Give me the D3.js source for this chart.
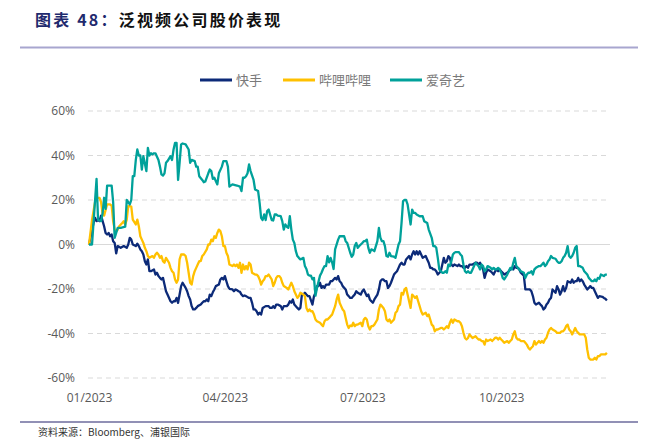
<!DOCTYPE html>
<html lang="zh">
<head>
  <meta charset="utf-8">
  <title>泛视频公司股价表现</title>
  <script src="https://d3js.org/d3.v7.min.js"></script>
  <style>
    body {
      margin: 0;
      background: #fff;
    }

    svg text {
      font-family: "Noto Sans CJK SC", "Open Sans", sans-serif;
    }

    .tick text {
      font-family: "Open Sans", "Noto Sans CJK SC", sans-serif;
      font-size: 12px;
      fill: #595959;
    }

    .grid {
      stroke: #d9d9d9;
      stroke-width: 1;
    }

    .series {
      fill: none;
      stroke-width: 2.3;
      stroke-linejoin: round;
    }

    .legend text {
      font-size: 13px;
      fill: #7a7a7a;
    }
  </style>
</head>

<body>
  <div id="chart"></div>

  <script>
    // day of 2023 (0 = 1 Jan) and change since start, in %
    var ksDays = [0,3,4,5,6,7,8,10,11,12,13,14,15,16,17,18,19,21,23,25,26,27,28,29,31,32,33,34,35,36,37,38,39,40,41,43,44,45,46,47,48,49,50,51,52,54,55,56,57,58,59,60,61,62,64,65,66,67,68,69,70,71,72,74,75,76,77,78,79,80,81,82,83,84,86,87,88,89,90,91,92,93,95,96,97,98,99,100,101,102,103,104,106,107,108,109,110,111,112,113,114,115,117,118,119,120,121,122,123,124,125,127,128,129,130,131,132,133,134,135,136,138,139,140,141,142,143,144,145,146,148,149,150,151,152,153,154,155,156,157,159,160,161,162,163,164,165,166,167,168,170,171,172,173,174,175,176,177,178,180,181,182,183,184,185,186,187,188,189,191,192,193,194,195,196,197,198,199,200,202,203,204,205,206,207,208,209,210,212,213,214,215,216,217,218,219,220,221,223,224,225,226,227,228,229,230,231,233,234,235,236,237,238,239,240,241,242,244,245,246,247,248,249,250,251,252,253,254,256,257,258,259,260,261,262,263,264,266,267,268,269,270,271,272,273,274,275,277,278,279,280,281,282,283,284,285,286,288,289,290,291,292,293,294,295,296,298,299,300,301,302,303,304,305,306,307,309,310,311,312,313,314,315,316,317,319,320,321,322,323,324,325,326,327,328,330,331,332,333,334,335,336,337,338,340,341,342,343];
    var ksValues = [0,9.7,12,10.5,11.2,10.5,13,8.2,5.2,4.5,5.2,3.7,4.5,1.5,0.7,-4,-0.7,-1.5,-0.7,-1.5,0,3,2.2,0,-0.7,0.4,-0.7,-2.2,-3,-4.5,-7.5,-9,-6.7,-12,-12,-11.2,-13.5,-12.7,-14.2,-15,-15.7,-15,-18,-21,-22.5,-25.5,-26.2,-25.5,-25.5,-24,-26.2,-22.5,-18.7,-17.2,-19.5,-21,-23.2,-24.7,-27.7,-29.2,-29.2,-28.5,-27.7,-27,-26.2,-25.5,-25.5,-24.7,-25.5,-22.5,-23.2,-21.5,-20.2,-18.7,-18,-15.7,-15,-15.7,-14.2,-16.5,-18.7,-19.9,-20.2,-21,-20.2,-20.5,-21,-21.3,-22.5,-23.2,-22.9,-23.2,-24,-24,-26.2,-29.2,-29.2,-30,-31.5,-30.7,-31.5,-28.5,-27.7,-27.7,-27.7,-28.5,-28.5,-27.7,-28.5,-27,-27,-27.7,-29.2,-27.7,-27.7,-27.7,-27,-25.5,-26.2,-24.7,-27,-28.5,-29.2,-28.5,-22.5,-22.5,-21.7,-22.5,-23.2,-23.2,-27,-23.2,-21.7,-18.7,-18.7,-17.2,-19.5,-18.7,-19.5,-18,-18,-16.5,-16.5,-15.7,-15,-15.7,-14.2,-16.5,-17.2,-18.7,-20.2,-22.5,-23.2,-24,-24,-23.2,-22.5,-21,-21.7,-22.5,-21,-20.2,-21.7,-23.2,-22.5,-24.7,-25.5,-26.2,-24.7,-22.5,-20.2,-16.5,-15.7,-15.7,-16.5,-16.5,-19.5,-18.7,-17.2,-13.5,-12.7,-12,-10.5,-9,-8.2,-9,-9,-6.7,-5.2,-6.7,-4.5,-3,-4.5,-3,-4.5,-3,-4.5,-6,-5.2,-6.7,-8.2,-10.5,-10.5,-11.2,-11.2,-12,-13.5,-12,-9,-6,-8.2,-7.5,-5.2,-6,-9,-9.7,-9,-9.7,-9,-9.7,-9.7,-10.5,-10.5,-9.7,-10.5,-9,-9,-9,-8.2,-8.2,-9,-8.2,-9.7,-11.2,-15,-12.7,-11.2,-12,-12.7,-13.5,-12,-11.2,-12,-11.2,-12,-12.7,-13.5,-12.7,-12,-11.2,-10.5,-11.2,-9.7,-10.5,-10.5,-11.2,-12.7,-14,-20.2,-20.2,-20.2,-20.2,-21,-23.2,-26.2,-27,-26.2,-27,-27.7,-29.2,-28.5,-27,-26.2,-24.7,-24,-20.2,-21.7,-18.7,-20.2,-22.5,-21,-18.7,-21,-19.5,-16.5,-17.2,-15.7,-17.2,-16.5,-16.5,-15,-16.5,-15.7,-16.5,-18,-20.2,-19.5,-18.7,-19.5,-19.5,-21,-22.5,-24,-23.2,-23.5,-24,-24.4,-25.2];

    var blDays = [0,2,4,5,7,8,9,10,11,12,14,15,16,17,18,19,20,22,23,24,25,26,27,28,29,31,32,33,34,35,36,37,38,39,40,42,43,44,45,46,47,48,49,50,51,53,54,55,56,57,58,59,60,61,63,64,65,66,67,68,69,70,71,72,73,74,75,76,78,79,80,81,82,83,84,85,86,87,88,89,90,91,92,93,95,96,97,98,99,100,101,102,103,104,105,106,107,108,110,111,112,113,114,115,116,117,118,119,121,122,123,124,125,126,127,128,129,131,132,133,134,135,136,137,138,139,140,142,143,144,145,146,147,148,149,150,151,153,154,155,156,157,158,159,160,161,163,164,165,166,167,168,169,170,171,172,173,174,175,176,177,178,180,181,182,183,184,185,186,187,188,189,191,192,193,194,195,196,197,198,199,200,202,203,204,205,206,207,208,209,210,211,213,214,215,216,217,218,219,220,221,223,224,225,226,227,228,229,230,231,233,234,235,236,237,238,239,240,241,242,244,245,246,247,248,249,250,251,252,253,254,256,257,258,259,260,261,262,263,264,266,267,268,269,270,271,272,273,274,275,277,278,279,280,281,282,283,284,285,286,288,289,290,291,292,293,294,295,296,298,299,300,301,302,303,304,305,306,307,309,310,311,312,313,314,315,316,317,318,319,320,321,322,323,324,325,326,327,328,329,330,331,332,333,334,335,336,337,338,339,341,342,343];
    var blValues = [0,11,19,21,21,19,14,13,15.5,18,18,17.5,10.5,6.7,6,6.7,8.2,9.7,10.5,9,11.2,17.2,17.2,17,11.2,9,11.2,8.2,3.7,2.2,0.7,-1.5,-3,-5.2,-6,-5.2,-6,-4.5,-3.7,-4.5,-6,-5.2,-7.5,-8.2,-6,-8.2,-10.5,-12,-12.7,-15.7,-17.2,-15.7,-6.7,-4.5,-4.5,-5.2,-8.2,-12.7,-17.2,-18,-14.2,-12,-10.5,-9,-7.5,-7.5,-5.2,-4.5,-2.2,0,0,2.2,1.5,3.7,3,5.2,6.7,6,3.7,-0.7,-0.7,-3.7,-5.2,-9,-9.7,-9,-9.7,-9,-10.5,-8.2,-12.7,-9,-11.2,-9.7,-11.2,-8.2,-9,-12.7,-13.5,-13.5,-14.2,-15.7,-18,-16.5,-15.7,-14.2,-14.2,-13.5,-15.7,-18.7,-17.2,-15,-14.2,-14.2,-15,-17.2,-18.7,-19.5,-20.2,-18.7,-17.2,-18.7,-21,-22.5,-24,-23.2,-21.7,-22.5,-23.2,-28.5,-30,-29.2,-30,-30,-31.5,-33.7,-34.5,-35.2,-36,-36.7,-34.5,-33.7,-33.7,-33,-32.2,-31.5,-27.7,-24.7,-22.5,-26.2,-27.7,-29.2,-30,-33,-36,-37.5,-36.4,-36.7,-35.2,-36.7,-36,-36,-35.2,-36.7,-33.7,-33,-33.7,-36.7,-38.2,-36.7,-36.7,-36,-33.7,-29.2,-27,-27.7,-28.5,-30,-33.7,-34.5,-33.7,-35.2,-33.7,-30.7,-30,-27.7,-27,-21.7,-22.5,-20.2,-19.5,-22.5,-28.5,-22.5,-23.2,-24,-23.2,-25.5,-27.7,-30,-31.5,-30.7,-32.2,-31.5,-33.7,-36,-36.7,-39,-38.2,-38.2,-37.5,-37.5,-38.2,-37.5,-36.7,-37.5,-35.2,-33.7,-35.2,-33.7,-34.5,-34.5,-35.2,-36.7,-39.7,-42,-42.7,-42,-40.4,-41.2,-42,-41.2,-42,-42.7,-42.7,-43.4,-43.4,-45,-42.7,-43.4,-42.7,-43.4,-42.7,-41.9,-41.9,-42.7,-41.9,-42.7,-43.4,-44.2,-43.4,-44.2,-43.4,-42.7,-40.4,-39,-41.9,-42.7,-42.7,-43.4,-43.4,-44.2,-45,-46.4,-47.2,-46.4,-45.7,-43.4,-45,-43.4,-44.2,-43.4,-44.2,-42.7,-41.9,-39.7,-38.2,-37.5,-38.2,-39,-39.7,-39.7,-39.7,-39,-39,-38.2,-36.7,-36,-38.2,-39,-40.4,-39,-37.5,-39,-39.7,-40.4,-40.4,-40.4,-40.4,-41.9,-47.2,-50.9,-51.7,-51.7,-51.7,-50.9,-51.7,-50.2,-50.2,-49.4,-49.4,-49.4,-48.7];

    var iqDays = [0,2,5,6,8,9,10,11,12,15,16,17,19,21,24,25,27,28,29,30,31,32,33,34,35,36,38,39,40,41,42,43,44,46,47,48,49,50,51,52,54,55,56,57,58,59,60,61,62,64,66,67,68,70,71,72,73,75,76,77,79,80,81,82,83,85,86,88,89,91,92,93,95,98,100,101,102,103,104,105,106,107,109,110,112,113,114,115,116,117,118,119,121,122,123,124,125,127,128,129,130,131,132,133,134,135,136,137,138,139,140,142,143,144,145,146,147,148,149,150,151,153,154,155,156,157,158,159,160,161,162,163,165,166,167,169,170,171,173,174,175,176,177,178,179,181,182,183,184,185,186,187,188,189,191,192,193,194,195,196,197,198,199,200,202,203,204,205,206,207,208,209,210,211,213,214,215,216,217,219,221,222,224,225,227,228,229,230,231,232,234,235,236,237,238,239,240,241,242,243,245,246,247,248,249,250,251,252,253,254,256,257,258,259,260,261,262,263,264,266,267,268,269,270,271,272,273,274,275,277,278,279,280,281,282,283,284,285,286,288,289,290,291,292,293,294,295,296,298,299,300,301,302,303,304,305,306,307,309,310,311,312,313,314,315,316,317,318,319,320,321,322,323,324,325,327,328,330,331,332,333,334,335,336,337,338,339,341,342,343];
    var iqValues = [0,0,29.5,11,10.5,14,21,16,26.5,26.5,19,3,7.5,7.5,8,20,18,20,30.7,30.7,38,42.7,40,40,33.7,39.7,33,43.4,40,41,40.5,41,41,38,35,31.5,31,32,36.7,37.5,39.7,38,42.7,45.7,45.7,29,36.7,45,45.4,45,42.7,36.7,38,37.5,35,35,30.7,29,28,28.3,32,33.7,33,29.5,30,27,32,35,37.5,37.5,35,26,27,26.5,26,24,30,30,30.7,32,36,33,29,24.7,24,18.7,12,11,13.5,11,15,15.7,11,10.8,13.5,13.5,13,12.7,10.5,6.7,9,8,7.5,12.7,6.7,2.2,0.7,-3,-5.2,-6,-6.7,-6,-9.7,-11,-13.5,-14,-14,-15.7,-15,-23,-19.5,-14,-12.7,-11,-9.7,-9.7,-5.2,-8,-6,-8,-11,-2.2,2.2,3.7,3.7,3.7,1.5,0.7,-3.7,-5.5,-4.5,-0.7,0.7,-1.5,-0.7,0.7,1.5,1.5,2.2,-1.5,-3.7,-2.2,-2.5,-3,1.5,7.5,3,1.5,1.5,-0.7,-5.2,-5.5,-3.7,-5.2,-5.5,-6,-3,0,1.5,9.7,19.5,20,20,18,9,15.7,14.2,14.2,13.5,12.7,12.7,10.5,9.7,6.7,3,-0.7,-0.7,-1.5,-6,-11.2,-12.7,-12.7,-12,-12.7,-9,-9.7,-7.5,-4.5,-3.7,-3.4,-3.4,-4.5,-5.2,-9,-12,-12.7,-12,-12.7,-12.7,-11.2,-8.2,-9,-9.7,-11.2,-9,-9.7,-12,-11.2,-9.7,-10.5,-11.2,-10.5,-11.2,-11.2,-10.5,-11.2,-12.7,-15,-15.7,-13.5,-12,-10.5,-11.2,-8.2,-6,-9.7,-10.5,-11.2,-12,-12.7,-15,-13.5,-12.7,-12.7,-12,-13.5,-11.2,-10.5,-9.7,-9.7,-9,-8.2,-9.7,-9,-7.5,-6.7,-5.2,-6,-6.4,-7.5,-8.2,-8.2,-7.5,-6,-5.2,-3.7,-0.7,-5.2,-6,-5.2,-3.7,-1.5,-0.7,-9.7,-9.7,-10.5,-12,-13.5,-15,-15.7,-16.5,-16.5,-15.7,-16.5,-15,-15.4,-13.5,-14.2,-13.5,-13.5];

    var seriesNames = ["快手", "哔哩哔哩", "爱奇艺"];
    var seriesColors = ["#0c2a78", "#ffc000", "#00a19a"];
    var yTicks = [-60, -40, -20, 0, 20, 40, 60];
    var xTickDates = ["2023-01-01", "2023-04-01", "2023-07-01", "2023-10-01"];

    var width = 654,
      height = 446;

    var start = new Date(2023, 0, 1);
    var dayToDate = function(d) { return d3.timeDay.offset(start, d); };

    var x = d3.scaleTime()
      .domain([start, dayToDate(344)])
      .range([89, 608.4]);

    var y = d3.scaleLinear()
      .domain([-60, 60])
      .range([378, 111]);

    var svg = d3.select("#chart")
      .append("svg")
        .attr("width", width)
        .attr("height", height);

    // title
    var title = svg.append("text")
      .attr("x", 35)
      .attr("y", 26)
      .attr("font-size", "16px")
      .attr("letter-spacing", "2.2px")
      .attr("font-weight", "bold");
    title.append("tspan").attr("fill", "#1f2a6e").text("图表 48：");
    title.append("tspan").attr("fill", "#111").text("泛视频公司股价表现");

    svg.append("line")
      .attr("x1", 20).attr("x2", 638)
      .attr("y1", 47.5).attr("y2", 47.5)
      .attr("stroke", "#a8a6cf")
      .attr("stroke-width", 2);

    // legend
    var legendX = [200, 283, 390];
    var legend = svg.append("g").attr("class", "legend");
    seriesNames.forEach(function(name, i) {
      legend.append("line")
        .attr("x1", legendX[i]).attr("x2", legendX[i] + 32)
        .attr("y1", 80).attr("y2", 80)
        .attr("stroke", seriesColors[i])
        .attr("stroke-width", 3);
      legend.append("text")
        .attr("x", legendX[i] + 36)
        .attr("y", 84.5)
        .text(name);
    });

    // gridlines
    svg.append("g")
      .selectAll("line")
      .data(yTicks)
      .enter()
      .append("line")
        .attr("class", "grid")
        .attr("x1", 88).attr("x2", 610)
        .attr("y1", function(d) { return y(d); })
        .attr("y2", function(d) { return y(d); })
        .attr("stroke-dasharray", function(d) { return d === 0 ? null : "5,4"; });

    // axes
    svg.append("g")
      .attr("transform", "translate(89,0)")
      .call(d3.axisLeft(y)
        .tickValues(yTicks)
        .tickSize(0)
        .tickPadding(14)
        .tickFormat(function(d) { return d + "%"; }))
      .call(function(g) { g.select(".domain").remove(); });

    svg.append("g")
      .attr("transform", "translate(0,387)")
      .call(d3.axisBottom(x)
        .tickValues(xTickDates.map(function(s) { return d3.timeParse("%Y-%m-%d")(s); }))
        .tickSize(0)
        .tickPadding(6)
        .tickFormat(d3.timeFormat("%m/%Y")))
      .call(function(g) { g.select(".domain").remove(); });

    // lines
    var series = [
      { days: ksDays, values: ksValues },
      { days: blDays, values: blValues },
      { days: iqDays, values: iqValues }
    ];

    var line = d3.line()
      .x(function(d) { return x(dayToDate(d[0])); })
      .y(function(d) { return y(d[1]); });

    svg.append("g")
      .selectAll("path")
      .data(series)
      .enter()
      .append("path")
        .attr("class", "series")
        .attr("stroke", function(d, i) { return seriesColors[i]; })
        .attr("d", function(s) { return line(d3.zip(s.days, s.values)); });

    // footer
    svg.append("line")
      .attr("x1", 20).attr("x2", 638)
      .attr("y1", 422).attr("y2", 422)
      .attr("stroke", "#6d6b9c")
      .attr("stroke-width", 1.5);

    svg.append("text")
      .attr("x", 38)
      .attr("y", 436)
      .attr("font-size", "10px")
      .attr("fill", "#333")
      .text("资料来源：Bloomberg、浦银国际");
  </script>
</body>

</html>
